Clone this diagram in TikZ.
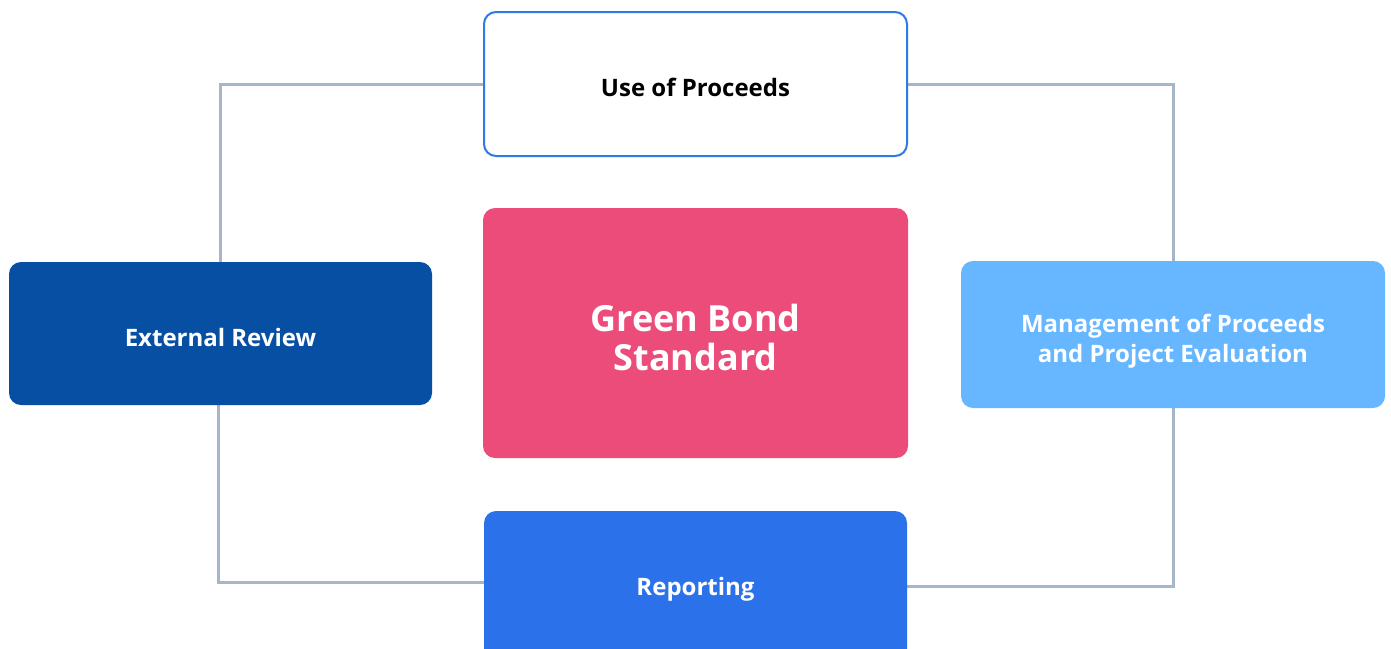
\documentclass[tikz,border=0pt]{standalone}
\usepackage{fontspec}
\setmainfont{Open Sans}[BoldFont={Open Sans Bold}]
\usetikzlibrary{backgrounds}
\definecolor{uopblue}{HTML}{2F7AE5}
\definecolor{gbspink}{HTML}{EC4C7A}
\definecolor{ernavy}{HTML}{074FA3}
\definecolor{mplight}{HTML}{66B7FF}
\definecolor{repblue}{HTML}{2B72EA}
\definecolor{linkgray}{HTML}{A6B5C8}
\newcommand\shiftedtext[2]{\raisebox{#1}[\height][\depth]{\begin{tabular}{@{}c@{}}#2\end{tabular}}}
\tikzset{
  box/.style={rectangle, rounded corners=12pt, inner sep=0pt, align=center,
    font=\bfseries\fontsize{24}{30}\selectfont, text=white},
  link/.style={draw=linkgray, line width=3pt}
}
\begin{document}
\begin{tikzpicture}[x=1pt,y=-1pt]
\useasboundingbox (0,0) rectangle (1391,648);
\node[box, draw=uopblue, line width=2pt, fill=white, text=black,
  minimum width=423pt, minimum height=144pt] (uop) at (695.5,84) {\shiftedtext{-6pt}{Use of Proceeds}};
\node[box, fill=gbspink, minimum width=425pt, minimum height=250pt,
  font=\bfseries\fontsize{36}{39}\selectfont] (gbs) at (695.5,333) {\shiftedtext{-10pt}{Green Bond\\Standard}};
\node[box, fill=ernavy, minimum width=423pt, minimum height=143pt] (er) at (220.5,333.5) {\shiftedtext{-7pt}{External Review}};
\node[box, fill=mplight, minimum width=424pt, minimum height=147pt] (mp) at (1173,334.5) {\shiftedtext{-7pt}{Management of Proceeds\\and Project Evaluation}};
\node[box, fill=repblue, minimum width=423pt, minimum height=150pt] (rep) at (695.5,586) {\shiftedtext{-3pt}{Reporting}};
\begin{scope}[on background layer]
  \fill[white] (0,0) rectangle (1391,648);
  \draw[link] (uop.west) -| (er.north);
  \draw[link] (uop.east) -| (mp.north);
  \draw[link] ([xshift=-2pt]er.south) |- ([yshift=4pt]rep.west);
  \draw[link] (mp.south) |- (rep.east);
\end{scope}
\end{tikzpicture}
\end{document}
